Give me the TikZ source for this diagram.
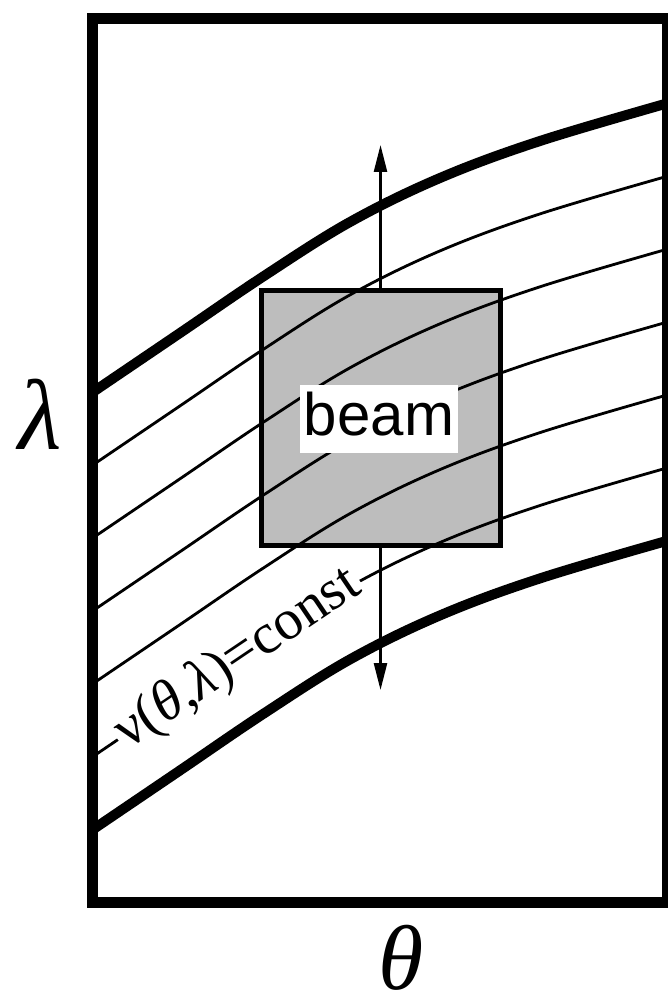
\documentclass[tikz,border=0pt]{standalone}
\usepackage{fontspec}
\setmainfont{Liberation Serif}
\newfontfamily\sansf{Liberation Sans}
\usetikzlibrary{arrows.meta}
\begin{document}
\begin{tikzpicture}[x=1pt,y=-1pt,
  arr/.style={line width=2.5pt,-{Triangle[length=27pt,width=13pt]}},
  framebox/.style={line width=11pt, line join=miter},
  beambox/.style={draw=black, line width=5pt, fill=black!26, minimum width=239pt, minimum height=255pt, inner sep=0pt},
  beamlabel/.style={fill=white, minimum width=158pt, text height=50pt, text depth=18pt, inner ysep=0pt, inner xsep=0pt, font=\sansf\fontsize{60}{60}\selectfont},
  curvelabel/.style={fill=white, inner sep=3pt, rotate=34, font=\fontsize{57}{57}\selectfont},
  axislabel/.style={inner sep=0pt}]
\useasboundingbox (0,0) rectangle (667,1000);
% beam box
\node[beambox] (box) at (380.5,417.5) {};
% curves nu = const
\foreach \k in {0,...,6} {
  \pgfmathsetmacro\lw{(\k==0 || \k==6) ? 10 : 2.8}
  \draw[line width=\lw pt, shift={(0,\k*72.9)}] plot[smooth, tension=0.6] coordinates {(90,394) (180,333) (264,276) (350,222) (440,178) (540,141) (672,102)};
}
% label on curve
\node[curvelabel] (nulabel) at (238,659) {ν(\textit{θ},\textit{λ})=const};
% beam label
\node[beamlabel] (beamlbl) at (379,419) {beam};
% arrows
\coordinate (uptip) at (380.5,145);
\coordinate (dntip) at (380.5,690);
\draw[arr] (box.north) -- (uptip);
\draw[arr] (box.south) -- (dntip);
% frame
\draw[framebox] (92.5,18.5) rectangle (667.5,902);
% axis labels
\node[axislabel] (lam) at (40,414) {\fontsize{100}{100}\selectfont\textit{λ}};
\node[axislabel] (th) at (401,958) {\fontsize{92}{92}\selectfont\textit{θ}};
\end{tikzpicture}
\end{document}
